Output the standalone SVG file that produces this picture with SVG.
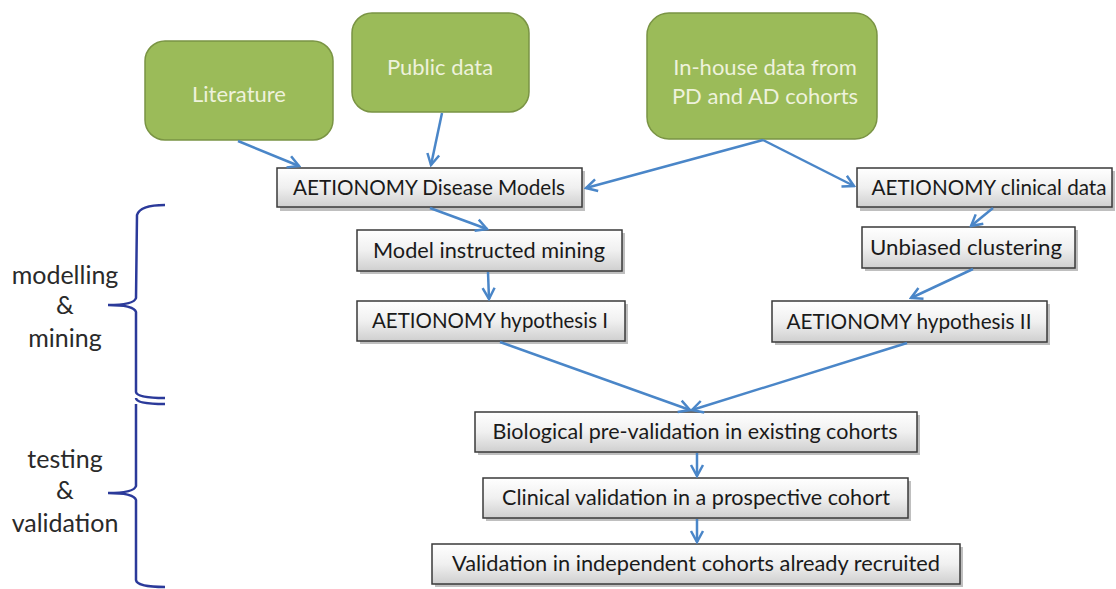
<svg xmlns="http://www.w3.org/2000/svg" width="1116" height="589" viewBox="0 0 1116 589">
<style>
.green{fill:#9bbb59;stroke:#7a9444;stroke-width:1.5}
.gtxt{font-family:Lato,"Liberation Sans",sans-serif;font-size:22px;fill:#eef2dc;text-anchor:middle}
.box{fill:url(#gg);stroke:#3a3a3a;stroke-width:1.5}
.shadow{fill:#000;opacity:0.25}
.btxt{font-family:Lato,"Liberation Sans",sans-serif;font-size:21.5px;fill:#1a1a1a;text-anchor:middle}
.lbl{font-family:Lato,"Liberation Sans",sans-serif;font-size:25px;fill:#2a2a2a;text-anchor:middle}
.conn{stroke:#4a86c8;stroke-width:2.5;fill:none;marker-end:url(#ah)}
.brace{stroke:#2b3a9a;stroke-width:2.5;fill:none}
</style>
<defs>
<linearGradient id="gg" x1="0" y1="0" x2="0" y2="1">
<stop offset="0" stop-color="#ffffff"/>
<stop offset="0.5" stop-color="#f0f0f0"/>
<stop offset="1" stop-color="#cfcfcf"/>
</linearGradient>
<marker id="ah" markerUnits="userSpaceOnUse" markerWidth="16" markerHeight="16" viewBox="0 0 16 16" refX="14" refY="8" orient="auto">
<path d="M3,2 L14,8 L3,14" fill="none" stroke="#4a86c8" stroke-width="2.5"/>
</marker>
</defs>
<rect width="1116" height="589" fill="#ffffff"/>

<g id="literature"><rect class="green" x="145" y="41" width="188" height="99" rx="20"/><text class="gtxt" x="239" y="102">Literature</text></g>
<g id="public-data"><rect class="green" x="352" y="13" width="177" height="99" rx="20"/><text class="gtxt" x="440" y="75">Public data</text></g>
<g id="in-house"><rect class="green" x="647" y="13" width="230" height="126" rx="22"/><text class="gtxt" x="765" y="75">In-house data from</text><text class="gtxt" x="765" y="104">PD and AD cohorts</text></g>

<g id="disease-models"><rect class="shadow" x="280" y="171" width="305" height="40"/><rect class="box" x="277" y="168" width="305" height="39"/><text class="btxt" x="429" y="195" textLength="272" lengthAdjust="spacingAndGlyphs">AETIONOMY Disease Models</text></g>
<g id="clinical-data"><rect class="shadow" x="860" y="171" width="255" height="40"/><rect class="box" x="857" y="168" width="255" height="39"/><text class="btxt" x="989" y="195" textLength="235" lengthAdjust="spacingAndGlyphs">AETIONOMY clinical data</text></g>
<g id="model-mining"><rect class="shadow" x="360" y="233" width="265" height="41"/><rect class="box" x="357" y="230" width="265" height="41"/><text class="btxt" x="489" y="258" textLength="232" lengthAdjust="spacingAndGlyphs">Model instructed mining</text></g>
<g id="unbiased"><rect class="shadow" x="865" y="230" width="213" height="41"/><rect class="box" x="862" y="227" width="213" height="41"/><text class="btxt" x="966" y="255" textLength="192" lengthAdjust="spacingAndGlyphs">Unbiased clustering</text></g>
<g id="hypothesis-1"><rect class="shadow" x="360" y="304" width="268" height="40"/><rect class="box" x="357" y="301" width="268" height="40"/><text class="btxt" x="490" y="328" textLength="236" lengthAdjust="spacingAndGlyphs">AETIONOMY hypothesis I</text></g>
<g id="hypothesis-2"><rect class="shadow" x="775" y="304" width="275" height="41"/><rect class="box" x="772" y="301" width="275" height="41"/><text class="btxt" x="909" y="329" textLength="245" lengthAdjust="spacingAndGlyphs">AETIONOMY hypothesis II</text></g>
<g id="bio-prevalidation"><rect class="shadow" x="478" y="415" width="442" height="40"/><rect class="box" x="475" y="412" width="442" height="40"/><text class="btxt" x="695" y="439" textLength="405" lengthAdjust="spacingAndGlyphs">Biological pre-validation in existing cohorts</text></g>
<g id="clinical-validation"><rect class="shadow" x="486" y="481" width="425" height="40"/><rect class="box" x="483" y="478" width="425" height="40"/><text class="btxt" x="696" y="505" textLength="388" lengthAdjust="spacingAndGlyphs">Clinical validation in a prospective cohort</text></g>
<g id="independent-validation"><rect class="shadow" x="435" y="547" width="528" height="40"/><rect class="box" x="432" y="544" width="528" height="40"/><text class="btxt" x="696" y="571" textLength="488" lengthAdjust="spacingAndGlyphs">Validation in independent cohorts already recruited</text></g>

<g id="connectors">
<line class="conn" x1="238" y1="141" x2="299" y2="166"/>
<line class="conn" x1="442" y1="113" x2="431" y2="165"/>
<line class="conn" x1="763" y1="140" x2="586" y2="188"/>
<line class="conn" x1="763" y1="140" x2="854" y2="186"/>
<line class="conn" x1="430" y1="208" x2="487" y2="229"/>
<line class="conn" x1="488" y1="272" x2="489" y2="299"/>
<line class="conn" x1="993" y1="208" x2="971" y2="226"/>
<line class="conn" x1="973" y1="269" x2="911" y2="298"/>
<line class="conn" x1="500" y1="342" x2="690" y2="410"/>
<line class="conn" x1="907" y1="343" x2="692" y2="410"/>
<line class="conn" x1="697" y1="453" x2="697" y2="476"/>
<line class="conn" x1="697" y1="519" x2="697" y2="542"/>
</g>

<g id="brace">
<path class="brace" d="M165,205 Q140,205 137,215 L136,298 Q134,305 108,305 Q134,305 136,312 L136,392 Q137,398 165,398 M136,398 Q136,404 165,404 M136,404 L136,486 Q134,493 108,493 Q134,493 136,500 L136,580 Q137,587 165,587"/>
</g>
<g id="labels">
<text class="lbl" x="65" y="284">modelling</text>
<text class="lbl" x="65" y="314">&amp;</text>
<text class="lbl" x="65" y="347">mining</text>
<text class="lbl" x="65" y="468">testing</text>
<text class="lbl" x="65" y="499">&amp;</text>
<text class="lbl" x="65" y="532">validation</text>
</g>
</svg>
